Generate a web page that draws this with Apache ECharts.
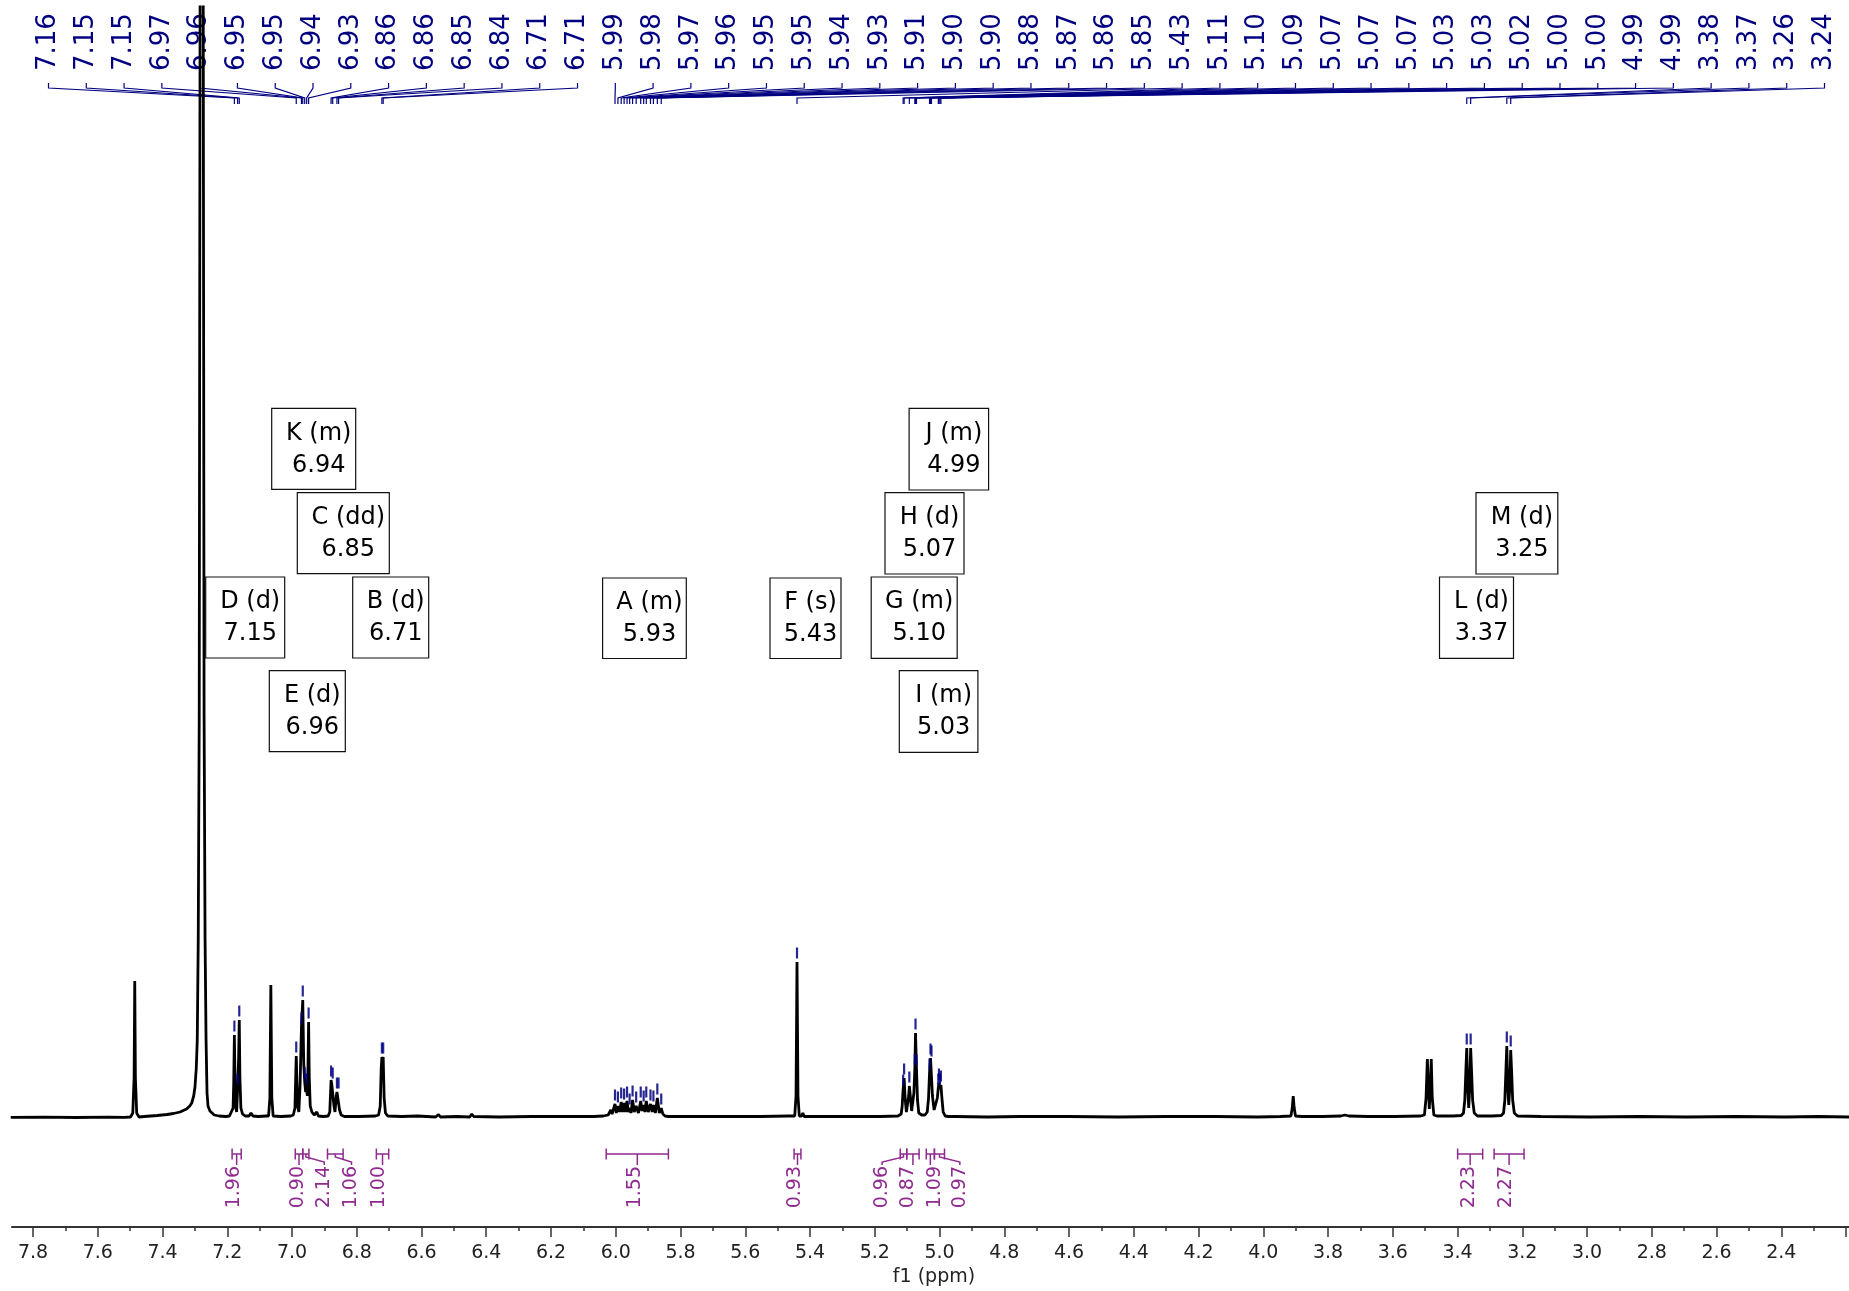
<!DOCTYPE html>
<html><head><meta charset="utf-8">
<script src="https://cdn.jsdelivr.net/npm/echarts@6/dist/echarts.min.js"></script>
<style>html,body{margin:0;padding:0;background:#fff}#c{width:1849px;height:1291px}</style>
</head><body><div id="c"></div>
<script>
// ---- spectrum trace: [ppm, intensity] ----
const spectrumPoints = [
[7.85,0.6],[7.75,0.8],[7.65,0.5],[7.55,0.8],[7.50,0.7],
[7.482,1],[7.475,5],[7.471,40],[7.469,137],[7.467,40],[7.463,5],[7.456,1],
[7.44,1.5],[7.42,2],[7.40,2.5],[7.37,3.5],[7.35,4.5],[7.33,6],[7.31,9],[7.30,12],[7.294,15],[7.288,22],[7.284,31],[7.280,50],[7.277,78],[7.274,178],[7.271,400],[7.268,1200],[7.2635,6000],[7.259,1200],[7.256,400],[7.253,178],[7.250,78],[7.247,25],[7.244,12],[7.238,7],[7.233,5],[7.225,3],[7.21,2],[7.19,1.5],[7.178,2],
[7.172,3],[7.167,10],[7.165,35],[7.163,83],[7.161,35],[7.158,9],[7.156,6],[7.153,30],[7.150,60],[7.148,98],[7.146,40],[7.143,10],[7.138,4],[7.13,2],
[7.118,2],[7.112,5],[7.106,2],[7.09,1.5],[7.065,2],
[7.058,2],[7.054,20],[7.051,133],[7.048,20],[7.044,2],
[7.02,1.5],[6.99,2],[6.982,3],
[6.977,10],[6.973,62],[6.969,12],[6.965,6],[6.961,35],[6.957,91],[6.953,118],[6.950,55],[6.947,36],[6.944,26],[6.941,30],[6.939,22],[6.937,50],[6.935,96],[6.933,40],[6.930,12],[6.925,6],[6.918,3],[6.910,6],[6.905,2],
[6.89,1.5],[6.875,2],
[6.870,6],[6.866,38],[6.864,34],[6.861,36],[6.857,12],[6.854,6],[6.850,22],[6.848,26],[6.846,24],[6.843,26],[6.840,8],[6.835,3],[6.825,1.5],
[6.78,1.5],[6.73,2],
[6.720,3],[6.715,12],[6.712,50],[6.710,61],[6.708,58],[6.706,61],[6.703,20],[6.699,5],[6.692,2],
[6.65,1.5],[6.60,2],[6.545,1],[6.536,3.5],[6.530,1],[6.48,1.5],[6.44,1],[6.434,4],[6.428,1.5],[6.35,1],[6.25,1.5],[6.15,1.5],[6.06,1.5],[6.03,2],
[6.015,3],[6.010,5],[6.007,8],[6.003,4],[5.998,5],[5.994,14],[5.990,5],[5.985,12],[5.980,6],[5.975,16],[5.971,6],[5.966,15],[5.962,6],[5.957,17],[5.953,6],[5.949,10],[5.945,5],[5.940,18],[5.935,6],[5.929,12],[5.922,5],[5.915,17],[5.911,7],[5.906,13],[5.902,6],[5.898,17],[5.892,6],[5.885,14],[5.880,6],[5.876,13],[5.870,5],[5.864,20],[5.858,5],[5.852,10],[5.847,4],[5.840,2],[5.83,1.5],
[5.75,1.5],[5.65,1.5],[5.55,1.5],[5.46,2],
[5.442,2],[5.438,22],[5.435,156],[5.432,22],[5.428,2],[5.421,2],[5.417,5],[5.413,1.5],
[5.35,1.5],[5.25,1.5],[5.18,1.5],[5.125,2],
[5.12,2],[5.115,4],[5.112,12],[5.109,29],[5.106,40],[5.103,20],[5.099,6],[5.095,8],[5.092,22],[5.090,32],[5.087,22],[5.083,7],[5.079,9],[5.076,25],[5.073,50],[5.071,85],[5.068,49],[5.065,18],[5.061,5],[5.052,3],[5.042,3],[5.035,6],[5.031,20],[5.028,45],[5.025,60],[5.022,58],[5.019,22],[5.014,8],[5.008,9],[5.004,20],[5.001,30],[4.999,35],[4.996,30],[4.993,33],[4.990,20],[4.986,6],[4.980,2],[4.97,1.5],
[4.95,1.5],[4.85,1],[4.75,1.5],[4.60,1.5],[4.45,1],[4.30,1.5],[4.15,1.5],[4.02,1],[3.95,1.5],
[3.918,2],[3.914,10],[3.911,22],[3.908,10],[3.904,2],[3.885,1.5],[3.880,3.5],[3.875,1.5],[3.82,1.5],[3.765,2],[3.752,3],[3.740,2],[3.68,1.5],[3.60,1.5],[3.52,2],
[3.508,3],[3.503,20],[3.499,59],[3.496,30],[3.493,9],[3.490,30],[3.487,59],[3.484,20],[3.479,3],[3.47,2],
[3.42,2],[3.395,2.5],[3.388,5],[3.384,18],[3.381,45],[3.378,70],[3.375,30],[3.372,10],[3.369,30],[3.366,70],[3.363,45],[3.360,18],[3.355,5],[3.345,2],
[3.30,2],[3.272,2.5],[3.265,5],[3.261,18],[3.258,45],[3.255,72],[3.252,30],[3.249,13],[3.246,30],[3.243,68],[3.240,45],[3.237,18],[3.232,5],[3.222,2],
[3.15,1.5],[3.00,1],[2.85,1.5],[2.70,1],[2.55,1.5],[2.40,1],[2.30,1.5],[2.20,1]
];

// ---- peak picks (top labels) ----
const pickLabels = ['7.16','7.15','7.15','6.97','6.96','6.95','6.95','6.94','6.93','6.86','6.86','6.85','6.84','6.71','6.71',
 '5.99','5.98','5.97','5.96','5.95','5.95','5.94','5.93','5.91','5.90','5.90','5.88','5.87','5.86','5.85',
 '5.43','5.11','5.10','5.09','5.07','5.07','5.07','5.03','5.03','5.02','5.00','5.00','4.99','4.99',
 '3.38','3.37','3.26','3.24'];
const pickPpm = [7.163,7.153,7.148,6.973,6.957,6.953,6.947,6.941,6.935,6.866,6.861,6.848,6.843,6.710,6.706,
 5.994,5.985,5.975,5.966,5.957,5.949,5.940,5.929,5.915,5.906,5.898,5.885,5.876,5.864,5.852,
 5.435,5.109,5.106,5.090,5.073,5.071,5.068,5.028,5.025,5.022,5.001,4.999,4.996,4.993,
 3.378,3.366,3.255,3.243];
const pickHeight = [83,30,98,62,91,118,36,30,96,38,36,26,26,61,61,
 14,12,16,15,17,10,18,12,17,13,17,14,13,20,10,
 156,29,40,32,50,85,49,45,60,58,30,35,30,33,
 70,70,72,68];

// ---- integrals ----
const integralValues = ['1.96','0.90','2.14','1.06','1.00','1.55','0.93','0.96','0.87','1.09','0.97','2.23','2.27'];
const integralFrom = [7.170,6.976,6.953,6.877,6.727,6.021,5.444,5.118,5.098,5.038,5.013,3.406,3.294];
const integralTo   = [7.142,6.953,6.934,6.829,6.689,5.830,5.423,5.098,5.060,5.013,4.982,3.329,3.202];

// ---- multiplet boxes ----
const multipletNames  = ['K (m)','C (dd)','D (d)','B (d)','E (d)','A (m)','F (s)','J (m)','H (d)','G (m)','I (m)','M (d)','L (d)'];
const multipletShifts = ['6.94','6.85','7.15','6.71','6.96','5.93','5.43','4.99','5.07','5.10','5.03','3.25','3.37'];

// ---- layout (pixels) ----
const integralLabelShift = [-2.5,-1.3,18.4,16.2,-3.3,-2,-2.6,-21.4,-5,4.6,20.4,-1,-3];
const multipletBoxes = [
 [271.7,408.3,84,81],[297.3,492.7,92,81],[205.7,577,79,81],[352.7,577,76,81],[269.3,670.7,76,81],
 [602.6,578,83.7,80.5],[770,578,71,80.5],
 [909.1,408.3,79.5,81.7],[885,492.7,79,81.3],[871.2,577,86,81.3],[899.3,670.7,78.6,81.6],
 [1476,492.7,81.8,81.3],[1439.5,577,74,81.3]
];

const FONT = '"DejaVu Sans", Verdana, sans-serif';
const NAVY = '#000080';
const PURPLE = '#8F2A8F';

const chart = echarts.init(document.getElementById('c'));
chart.setOption({
  animation: false,
  backgroundColor: '#ffffff',
  grid: [
    {left: 12, right: 0, top: 7, bottom: 64},
    {left: 33, width: 1823.4, top: 7, bottom: 64}
  ],
  xAxis: [
    {type: 'value', gridIndex: 0, min: 2.204, max: 7.846, inverse: true,
     axisLine: {show: true, onZero: false, lineStyle: {color: '#333', width: 2}},
     axisTick: {show: false}, axisLabel: {show: false}, splitLine: {show: false}},
    {type: 'value', gridIndex: 1, min: 2.2, max: 7.8, interval: 0.2, inverse: true,
     axisLine: {show: false, onZero: false},
     axisTick: {show: true, length: 10, lineStyle: {color: '#333', width: 1.5}},
     minorTick: {show: true, splitNumber: 2, length: 4, lineStyle: {color: '#333', width: 1.5}},
     axisLabel: {fontSize: 19, fontFamily: FONT, color: '#222', margin: 17,
       formatter: v => (Math.abs(v - 2.2) < 1e-6 ? '' : v.toFixed(1))},
     splitLine: {show: false}}
  ],
  yAxis: [
    {type: 'value', gridIndex: 0, min: -109, max: 1111, show: false},
    {type: 'value', gridIndex: 1, min: 0, max: 1, show: false}
  ],
  series: [
    {type: 'line', xAxisIndex: 0, yAxisIndex: 0, data: spectrumPoints, showSymbol: false,
     symbol: 'none', clip: true, silent: true, z: 3,
     lineStyle: {color: '#000', width: 2.8}},
    {type: 'scatter', xAxisIndex: 0, yAxisIndex: 0, silent: true, z: 4,
     data: pickPpm.map((p, i) => [p, pickHeight[i]]),
     symbol: 'rect', symbolSize: [2.2, 11], symbolOffset: [0, -9],
     itemStyle: {color: NAVY, opacity: 0.85}},
    {type: 'scatter', xAxisIndex: 1, yAxisIndex: 1, data: [], silent: true}
  ]
});

const px = ppm => chart.convertToPixel({xAxisIndex: 0, yAxisIndex: 0}, [ppm, 0])[0];
const g = [];

// axis title
g.push({type: 'text', x: 934, y: 1277, z: 1,
  style: {text: 'f1 (ppm)', fill: '#222', font: '19px ' + FONT, align: 'center', textAlign: 'center',
          verticalAlign: 'middle', textVerticalAlign: 'middle'}});

// top peak labels with connectors
const L0 = 48.5, L1 = 1824.5, n = pickLabels.length;
pickLabels.forEach((t, i) => {
  const lx = L0 + i * (L1 - L0) / (n - 1);
  const x = px(pickPpm[i]);
  g.push({type: 'text', x: lx, y: 71, rotation: Math.PI / 2, z: 0,
    style: {text: t, fill: NAVY, font: '26px ' + FONT, align: 'left', textAlign: 'left',
            verticalAlign: 'middle', textVerticalAlign: 'middle'}});
  g.push({type: 'polyline', z: 0, shape: {points: [[lx, 83], [lx, 88], [x, 98], [x, 104]]},
    style: {stroke: NAVY, lineWidth: 1.2, fill: null}});
});

// integrals
integralValues.forEach((t, i) => {
  const x1 = px(integralFrom[i]), x2 = px(integralTo[i]);
  const xc = (x1 + x2) / 2, lx = xc + integralLabelShift[i];
  const st = {stroke: PURPLE, lineWidth: 1.5, fill: null};
  g.push({type: 'polyline', z: 1, shape: {points: [[x1, 1154], [x2, 1154]]}, style: st});
  g.push({type: 'polyline', z: 1, shape: {points: [[x1, 1148.5], [x1, 1159.5]]}, style: st});
  g.push({type: 'polyline', z: 1, shape: {points: [[x2, 1148.5], [x2, 1159.5]]}, style: st});
  const pts = Math.abs(lx - xc) > 6 ? [[xc, 1154], [xc, 1157], [lx, 1162], [lx, 1165]] : [[xc, 1154], [xc, 1165]];
  g.push({type: 'polyline', z: 1, shape: {points: pts}, style: st});
  g.push({type: 'text', x: lx, y: 1166, rotation: Math.PI / 2, z: 1,
    style: {text: t, fill: PURPLE, font: '19px ' + FONT, align: 'right', textAlign: 'right',
            verticalAlign: 'middle', textVerticalAlign: 'middle'}});
});

// multiplet boxes
multipletNames.forEach((name, i) => {
  const [bx, by, bw, bh] = multipletBoxes[i];
  g.push({type: 'rect', z: 5, shape: {x: bx, y: by, width: bw, height: bh},
    style: {fill: '#fff', stroke: '#111', lineWidth: 1.2}});
  const cx = bx + bw / 2 + 5;
  g.push({type: 'text', z: 6, x: cx, y: by + 25,
    style: {text: name, fill: '#000', font: '24px ' + FONT, align: 'center', textAlign: 'center',
            verticalAlign: 'middle', textVerticalAlign: 'middle'}});
  g.push({type: 'text', z: 6, x: cx, y: by + 57,
    style: {text: multipletShifts[i], fill: '#000', font: '24px ' + FONT, align: 'center', textAlign: 'center',
            verticalAlign: 'middle', textVerticalAlign: 'middle'}});
});

chart.setOption({graphic: {elements: g}});
</script>
</body></html>
